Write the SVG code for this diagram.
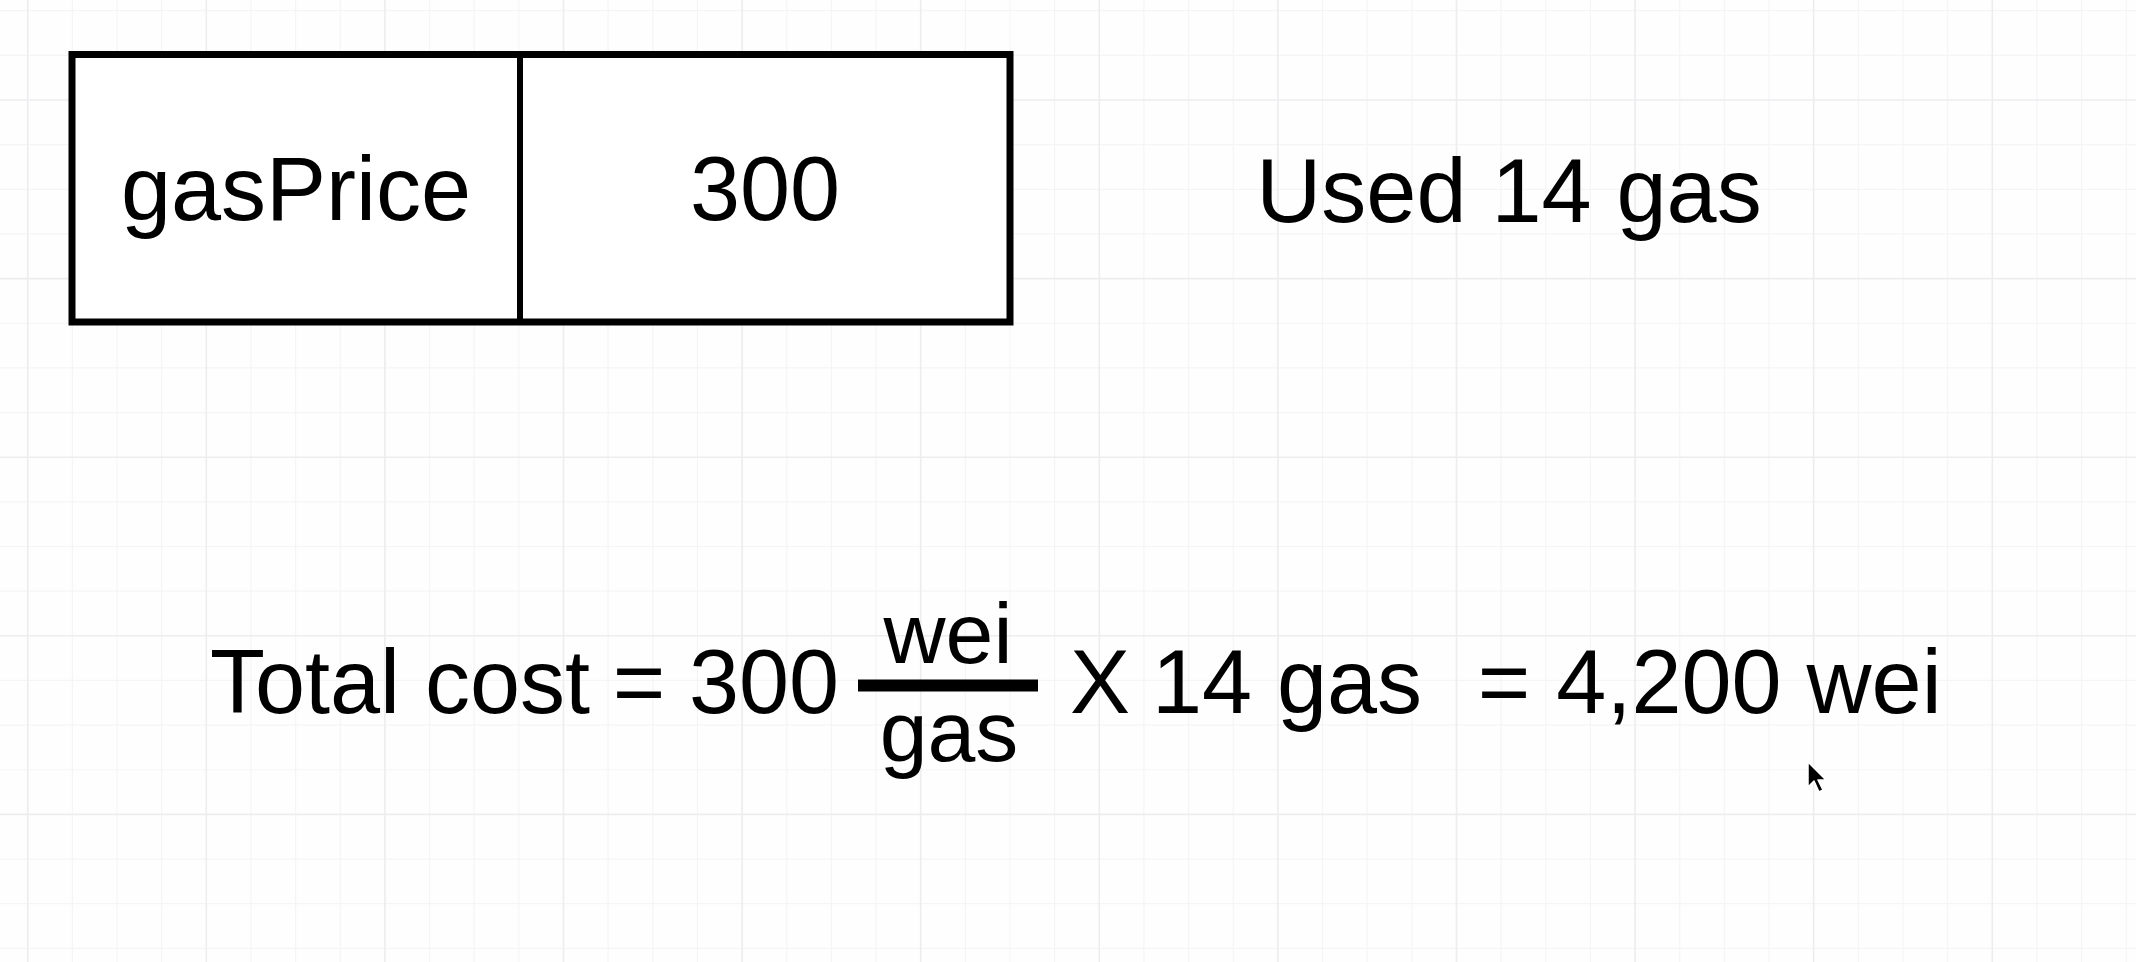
<svg xmlns="http://www.w3.org/2000/svg" width="2136" height="962" viewBox="0 0 2136 962">
  <style>
    .t { font-family: "Liberation Sans", Arial, Helvetica, sans-serif; font-size: 90px; fill: #000; text-anchor: middle; }
    .f { font-size: 86px; }
    .minor { stroke: #f5f5f7; stroke-width: 1.2; fill: none; }
    .major { stroke: #ededf0; stroke-width: 1.6; fill: none; }
  </style>
  <rect x="0" y="0" width="2136" height="962" fill="#fefefe"/>
  <g id="grid">
    <path class="minor" d="M27.7 0V962M72.35 0V962M117 0V962M161.65 0V962M250.95 0V962M295.6 0V962M340.25 0V962M429.55 0V962M474.2 0V962M518.85 0V962M608.15 0V962M652.8 0V962M697.45 0V962M786.75 0V962M831.4 0V962M876.05 0V962M965.35 0V962M1010 0V962M1054.65 0V962M1143.95 0V962M1188.6 0V962M1233.25 0V962M1322.55 0V962M1367.2 0V962M1411.85 0V962M1501.15 0V962M1545.8 0V962M1590.45 0V962M1679.75 0V962M1724.4 0V962M1769.05 0V962M1858.35 0V962M1903 0V962M1947.65 0V962M2036.95 0V962M2081.6 0V962M2126.25 0V962M0 10.7H2136M0 55.35H2136M0 144.65H2136M0 189.3H2136M0 233.95H2136M0 323.25H2136M0 367.9H2136M0 412.55H2136M0 501.85H2136M0 546.5H2136M0 591.15H2136M0 680.45H2136M0 725.1H2136M0 769.75H2136M0 859.05H2136M0 903.7H2136M0 948.35H2136"/>
    <path class="major" d="M27.7 0V962M206.3 0V962M384.9 0V962M563.5 0V962M742.1 0V962M920.7 0V962M1099.3 0V962M1277.9 0V962M1456.5 0V962M1635.1 0V962M1813.7 0V962M1992.3 0V962M0 100H2136M0 278.6H2136M0 457.2H2136M0 635.8H2136M0 814.4H2136"/>
  </g>
  <g id="gasPriceTable">
    <rect x="72" y="54.5" width="938" height="267.5" fill="#ffffff" stroke="#000" stroke-width="7"/>
    <line x1="520" y1="54.5" x2="520" y2="322" stroke="#000" stroke-width="6"/>
    <text class="t" x="296" y="220">gasPrice</text>
    <text class="t" x="765" y="220">300</text>
  </g>
  <g id="usedGas">
    <text class="t" x="1509" y="222">Used 14 gas</text>
  </g>
  <g id="formula">
    <text class="t" x="400" y="713" textLength="380" lengthAdjust="spacing">Total cost</text>
    <text class="t" x="639" y="713">=</text>
    <text class="t" x="764" y="713">300</text>
    <text class="t f" x="948" y="663">wei</text>
    <line x1="858" y1="685.5" x2="1038" y2="685.5" stroke="#000" stroke-width="12"/>
    <text class="t f" x="949" y="761">gas</text>
    <text class="t" x="1100" y="713">X</text>
    <text class="t" x="1287" y="713">14 gas</text>
    <text class="t" x="1504" y="713">=</text>
    <text class="t" x="1749" y="713">4,200 wei</text>
  </g>
  <g id="cursor">
    <path d="M1808 762 L1808 787 L1814 781 L1819 792 L1823 790 L1818 780 L1826 780 Z" fill="#000" stroke="#fff" stroke-width="1.5" stroke-linejoin="round"/>
  </g>
</svg>
